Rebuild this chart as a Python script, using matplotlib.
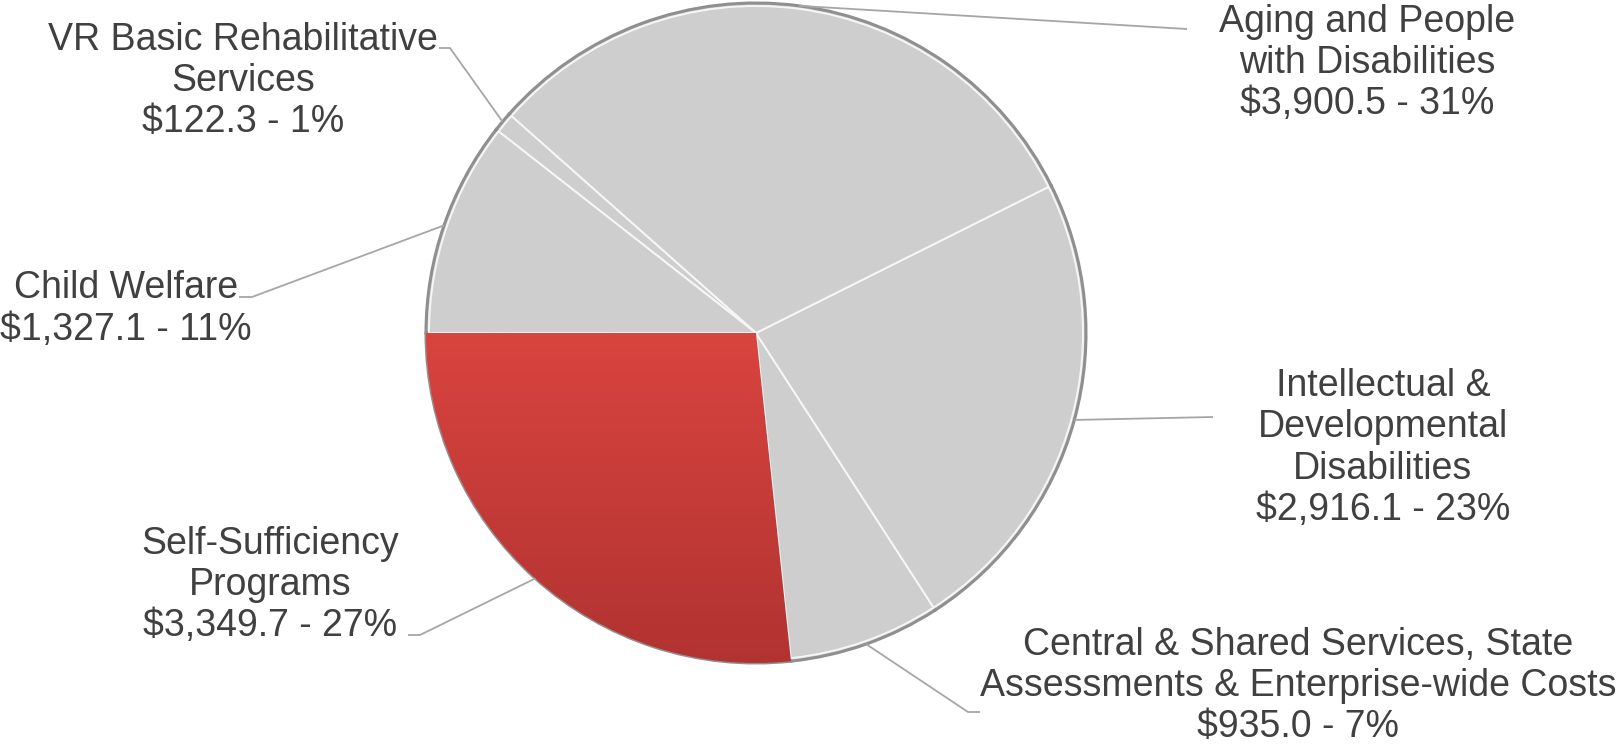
import numpy as np
import matplotlib.pyplot as plt

# slices in drawing order, counter-clockwise from 9 o'clock
names = [
    "Self-Sufficiency\nPrograms",
    "Central & Shared Services, State\nAssessments & Enterprise-wide Costs",
    "Intellectual &\nDevelopmental\nDisabilities",
    "Aging and People\nwith Disabilities",
    "VR Basic Rehabilitative\nServices",
    "Child Welfare",
]
amounts = [3349.7, 935.0, 2916.1, 3900.5, 122.3, 1327.1]
percents = [27, 7, 23, 31, 1, 11]
slice_colors = ['#cc3d3a', '#cecece', '#cecece', '#cecece', '#cecece', '#cecece']

# label placement (image pixels, y down): text centre, leader end, short tail
label_pos = [(270, 585), (1298, 686), (1383, 448), (1367, 63), (243, 81), (126, 309)]
leader_end = [(420, 635), (968, 712), (1213, 417), (1187, 29), (450, 48), (252, 297)]
tail_dx = [-12, 12, 0, 0, -11, -13]

W, H = 1618, 748
cx, cy, R = 756, 333, 330

plt.rcParams['font.family'] = ['Liberation Sans', 'DejaVu Sans']

fig = plt.figure(figsize=(W / 100, H / 100), dpi=100)
ax = fig.add_axes([0, 0, 1, 1])

# dark rim under everything, gives the bevel look
wedges, _ = ax.pie(amounts, colors=slice_colors, startangle=180, counterclock=True,
                   center=(cx, H - cy), radius=R,
                   wedgeprops=dict(edgecolor='#8f8f8f', linewidth=2.2))
# light inner edge
ax.pie(amounts, colors=slice_colors, startangle=180, counterclock=True,
       center=(cx, H - cy), radius=R - 3,
       wedgeprops=dict(edgecolor='#f6f6f6', linewidth=1.4))

# vertical gradient on the red slice
red = wedges[0]
yy = np.linspace(0, 1, 256).reshape(-1, 1)
img = ax.imshow(yy, cmap=plt.matplotlib.colors.LinearSegmentedColormap.from_list(
    'r', ['#b13331', '#d9443f']), extent=[cx - R, cx + R, H - cy - R, H - cy],
    origin='lower', aspect='auto', zorder=2)
img.set_clip_path(red)

for w, name, amt, pct, (tx, ty), (ex, ey), dx in zip(
        wedges, names, amounts, percents, label_pos, leader_end, tail_dx):
    mid = np.deg2rad((w.theta1 + w.theta2) / 2)
    sx = cx + R * np.cos(mid)
    sy = (H - cy) + R * np.sin(mid)
    ax.plot([sx, ex, ex + dx], [sy, H - ey, H - ey], color='#a6a6a6', lw=1.3,
            zorder=3, solid_capstyle='butt')
    ax.text(tx, H - ty, f"{name}\n\\${amt:,.1f} - {pct}%", ha='center', va='center',
            multialignment='center', fontsize=27, color='#404040', linespacing=1.18)

ax.set_xlim(0, W)
ax.set_ylim(0, H)
ax.set_aspect('equal')
ax.axis('off')

fig.savefig('out.png', dpi=100, facecolor='white')
